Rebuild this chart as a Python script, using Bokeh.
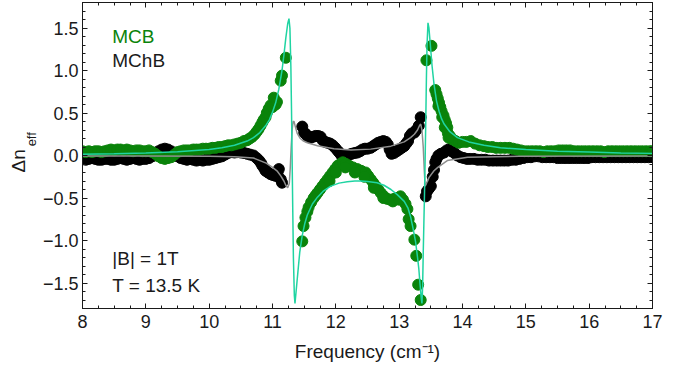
from bokeh.plotting import figure
from bokeh.models import Range1d, FixedTicker, LinearAxis, Label, CustomJSTickFormatter
from bokeh.embed import file_html
from bokeh.resources import INLINE

# ---------------- data ----------------
mcb_points = [
    (8.00, 0.05), (8.05, 0.04), (8.10, 0.05), (8.15, 0.04), (8.20, 0.05), (8.25, 0.05), (8.30, 0.04),
    (8.35, 0.05), (8.40, 0.06), (8.45, 0.07), (8.50, 0.06), (8.55, 0.07), (8.60, 0.07), (8.65, 0.06),
    (8.70, 0.07), (8.75, 0.06), (8.80, 0.05), (8.85, 0.06), (8.90, 0.06), (8.95, 0.05), (9.00, 0.05),
    (9.05, 0.06), (9.10, 0.04), (9.15, 0.02), (9.20, -0.01), (9.25, -0.03), (9.30, -0.04), (9.35, -0.03),
    (9.40, -0.02), (9.45, 0.01), (9.50, 0.04), (9.55, 0.05), (9.60, 0.06), (9.65, 0.06), (9.70, 0.06),
    (9.75, 0.07), (9.80, 0.07), (9.85, 0.07), (9.90, 0.08), (9.95, 0.08), (10.00, 0.08), (10.05, 0.09),
    (10.10, 0.09), (10.15, 0.10), (10.20, 0.10), (10.25, 0.11), (10.30, 0.12), (10.35, 0.12), (10.40, 0.13),
    (10.45, 0.14), (10.50, 0.15), (10.55, 0.17), (10.60, 0.18), (10.64, 0.20), (10.68, 0.22), (10.72, 0.25),
    (10.75, 0.28), (10.78, 0.31), (10.81, 0.35), (10.84, 0.39), (10.86, 0.42), (10.89, 0.45), (10.91, 0.50),
    (10.94, 0.55), (10.97, 0.59), (11.00, 0.57), (11.02, 0.68), (11.05, 0.60), (11.07, 0.63), (11.13, 0.88),
    (11.15, 0.94), (11.21, 1.15),
    (11.47, -1.01), (11.49, -0.83), (11.52, -0.73), (11.55, -0.66), (11.57, -0.61), (11.61, -0.55),
    (11.65, -0.50), (11.68, -0.47), (11.71, -0.44), (11.75, -0.40), (11.79, -0.36), (11.83, -0.32),
    (11.87, -0.28), (11.91, -0.24), (11.95, -0.20), (11.99, -0.16), (12.03, -0.12), (12.07, -0.10),
    (12.11, -0.08), (12.16, -0.10), (12.21, -0.12), (12.27, -0.14), (12.34, -0.16), (12.40, -0.18),
    (12.47, -0.20), (12.51, -0.24), (12.55, -0.28), (12.59, -0.32), (12.63, -0.36), (12.67, -0.40),
    (12.71, -0.44), (12.76, -0.48), (12.81, -0.51), (12.86, -0.52), (12.92, -0.51), (12.97, -0.50),
    (13.02, -0.48), (13.06, -0.52), (13.10, -0.57), (13.13, -0.63), (13.15, -0.75), (13.18, -0.83),
    (13.24, -0.99), (13.27, -1.18), (13.30, -1.52), (13.34, -1.70),
    (11.90, -0.30), (12.00, -0.20), (12.15, -0.14), (12.30, -0.20), (12.45, -0.25), (12.60, -0.38),
    (12.75, -0.50), (12.90, -0.54), (13.00, -0.52),
    (13.43, 1.12), (13.51, 1.29), (13.57, 0.77), (13.59, 0.72), (13.61, 0.67), (13.63, 0.62), (13.65, 0.57),
    (13.67, 0.52), (13.70, 0.47), (13.72, 0.42), (13.74, 0.38), (13.76, 0.33), (13.77, 0.26), (13.80, 0.23),
    (13.84, 0.19), (13.89, 0.17), (13.94, 0.15), (14.00, 0.16), (14.06, 0.16), (14.13, 0.17), (14.20, 0.14),
    (14.27, 0.12), (14.34, 0.11), (14.40, 0.10), (14.47, 0.10), (14.53, 0.09), (14.60, 0.09), (14.67, 0.09),
    (14.74, 0.09), (14.80, 0.08), (14.86, 0.07), (14.92, 0.06), (14.98, 0.05), (15.04, 0.05), (15.10, 0.05),
    (15.16, 0.05), (15.22, 0.05), (15.28, 0.04), (15.34, 0.05), (15.40, 0.05), (15.46, 0.05), (15.52, 0.06),
    (15.58, 0.06), (15.64, 0.06), (15.70, 0.06), (15.76, 0.05), (15.82, 0.05), (15.88, 0.05), (15.94, 0.05),
    (16.00, 0.05), (16.06, 0.05), (16.12, 0.05), (16.18, 0.05), (16.24, 0.04), (16.30, 0.05), (16.36, 0.05),
    (16.42, 0.05), (16.48, 0.05), (16.54, 0.05), (16.60, 0.05), (16.66, 0.05), (16.72, 0.05), (16.78, 0.05),
    (16.84, 0.05), (16.90, 0.05), (16.96, 0.05), (17.00, 0.05),
    (13.62, 0.58), (13.68, 0.45), (13.72, 0.33), (13.78, 0.21),
]

mchb_points = [
    (8.00, -0.04), (8.05, -0.05), (8.10, -0.04), (8.15, -0.03), (8.20, -0.04), (8.25, -0.05), (8.30, -0.05),
    (8.35, -0.04), (8.40, -0.04), (8.45, -0.05), (8.50, -0.05), (8.55, -0.04), (8.60, -0.03), (8.65, -0.04),
    (8.70, -0.05), (8.75, -0.04), (8.80, -0.03), (8.85, -0.04), (8.90, -0.05), (8.95, -0.04), (9.00, -0.04),
    (9.05, -0.03), (9.10, -0.01), (9.15, 0.02), (9.20, 0.05), (9.25, 0.07), (9.30, 0.08), (9.35, 0.07),
    (9.40, 0.05), (9.45, 0.02), (9.50, -0.01), (9.55, -0.03), (9.60, -0.04), (9.65, -0.05), (9.70, -0.04),
    (9.75, -0.05), (9.80, -0.06), (9.85, -0.05), (9.90, -0.06), (9.95, -0.05), (10.00, -0.05), (10.05, -0.04),
    (10.10, -0.03), (10.15, -0.02), (10.20, -0.01), (10.25, 0.01), (10.30, 0.03), (10.35, 0.04), (10.40, 0.035),
    (10.45, 0.04), (10.50, 0.035), (10.55, 0.03), (10.60, 0.02), (10.65, 0.01), (10.70, 0.0), (10.75, -0.03),
    (10.79, -0.06), (10.82, -0.09), (10.84, -0.12), (10.87, -0.15), (10.89, -0.18), (10.93, -0.20),
    (10.97, -0.22), (11.01, -0.23), (11.05, -0.24), (11.08, -0.20), (11.10, -0.16), (11.13, -0.28),
    (11.15, -0.32),
    (11.47, 0.34), (11.50, 0.27), (11.53, 0.25), (11.56, 0.22), (11.60, 0.21), (11.64, 0.22), (11.68, 0.23),
    (11.72, 0.23), (11.76, 0.22), (11.79, 0.18), (11.83, 0.16), (11.87, 0.15), (11.91, 0.14), (11.95, 0.12),
    (11.99, 0.09), (12.03, 0.055), (12.06, 0.03), (12.09, 0.0), (12.13, -0.01), (12.17, 0.0), (12.21, 0.01),
    (12.25, 0.02), (12.30, 0.03), (12.34, 0.035), (12.38, 0.05), (12.42, 0.07), (12.46, 0.08), (12.50, 0.08),
    (12.55, 0.09), (12.59, 0.11), (12.63, 0.13), (12.67, 0.15), (12.71, 0.16), (12.75, 0.17), (12.79, 0.16),
    (12.82, 0.13), (12.85, 0.07), (12.88, 0.02), (12.92, 0.03), (12.96, 0.05), (13.00, 0.07), (13.04, 0.09),
    (13.08, 0.11), (13.11, 0.14), (13.14, 0.17), (13.17, 0.23), (13.20, 0.26), (13.24, 0.27), (13.27, 0.30),
    (13.31, 0.35), (13.34, 0.45),
    (13.42, -0.48), (13.44, -0.42), (13.47, -0.39), (13.50, -0.36), (13.53, -0.25), (13.55, -0.17),
    (13.57, -0.08), (13.59, -0.04), (13.62, 0.0), (13.66, 0.02), (13.71, 0.035), (13.75, 0.06), (13.79, 0.075),
    (13.83, 0.05), (13.87, 0.03), (13.92, 0.0), (13.97, -0.02), (14.02, -0.03), (14.07, -0.04), (14.12, -0.04),
    (14.18, -0.04), (14.24, -0.05), (14.30, -0.05), (14.36, -0.05), (14.42, -0.06), (14.48, -0.06),
    (14.54, -0.06), (14.60, -0.06), (14.66, -0.06), (14.72, -0.06), (14.78, -0.05), (14.84, -0.05),
    (14.90, -0.04), (14.96, -0.03), (15.02, -0.02), (15.08, -0.02), (15.14, -0.01), (15.20, -0.01),
    (15.26, -0.02), (15.32, -0.02), (15.38, -0.02), (15.44, -0.02), (15.50, -0.03), (15.56, -0.03),
    (15.62, -0.03), (15.68, -0.03), (15.74, -0.03), (15.80, -0.03), (15.86, -0.03), (15.92, -0.03),
    (15.98, -0.03), (16.04, -0.02), (16.10, -0.02), (16.16, -0.02), (16.22, -0.02), (16.28, -0.02),
    (16.34, -0.02), (16.40, -0.02), (16.46, -0.02), (16.52, -0.02), (16.58, -0.02), (16.64, -0.02),
    (16.70, -0.02), (16.76, -0.02), (16.82, -0.02), (16.88, -0.02), (16.94, -0.02), (17.00, -0.02),
]

mcb_fit = [
    (8.0, 0.015), (8.5, 0.02), (9.0, 0.03), (9.5, 0.045), (10.0, 0.07), (10.2, 0.09), (10.4, 0.12),
    (10.6, 0.17), (10.7, 0.21), (10.8, 0.27), (10.9, 0.36), (10.95, 0.42), (11.0, 0.51), (11.05, 0.62),
    (11.1, 0.78), (11.15, 1.0), (11.18, 1.18), (11.21, 1.38), (11.24, 1.55), (11.26, 1.61), (11.275, 1.50),
    (11.29, 1.05), (11.30, 0.55), (11.31, -0.05), (11.32, -0.65), (11.33, -1.2), (11.345, -1.65),
    (11.355, -1.74), (11.37, -1.62), (11.40, -1.38), (11.43, -1.14), (11.47, -0.94), (11.51, -0.80),
    (11.55, -0.70), (11.63, -0.57), (11.71, -0.49), (11.80, -0.42), (11.92, -0.36), (12.05, -0.325),
    (12.18, -0.31), (12.30, -0.30), (12.39, -0.30), (12.50, -0.305), (12.65, -0.32), (12.76, -0.35),
    (12.87, -0.40), (12.97, -0.46), (13.08, -0.54), (13.14, -0.62), (13.18, -0.72), (13.22, -0.86),
    (13.26, -1.02), (13.29, -1.20), (13.31, -1.33), (13.33, -1.52), (13.35, -1.69), (13.36, -1.74),
    (13.37, -1.55), (13.38, -1.15), (13.39, -0.80), (13.40, -0.45), (13.41, -0.05), (13.42, 0.40),
    (13.43, 0.90), (13.44, 1.30), (13.455, 1.56), (13.47, 1.50), (13.49, 1.32), (13.52, 1.05), (13.55, 0.84),
    (13.59, 0.64), (13.63, 0.52), (13.67, 0.43), (13.71, 0.37), (13.80, 0.28), (13.92, 0.21), (14.1, 0.16),
    (14.34, 0.12), (14.6, 0.09), (15.0, 0.07), (15.5, 0.05), (16.0, 0.04), (16.5, 0.03), (17.0, 0.025),
]

mchb_fit = [
    (8.0, -0.005), (9.0, -0.005), (10.0, -0.01), (10.4, -0.015), (10.7, -0.03), (10.9, -0.09), (11.0, -0.14),
    (11.07, -0.18), (11.13, -0.24), (11.18, -0.30), (11.21, -0.35), (11.24, -0.38), (11.265, -0.33),
    (11.28, -0.15), (11.295, 0.10), (11.31, 0.30), (11.325, 0.40), (11.34, 0.40), (11.36, 0.34), (11.39, 0.26),
    (11.44, 0.20), (11.49, 0.17), (11.55, 0.15), (11.71, 0.115), (11.97, 0.08), (12.24, 0.065), (12.55, 0.075),
    (12.87, 0.11), (13.08, 0.16), (13.18, 0.21), (13.24, 0.25), (13.29, 0.30), (13.32, 0.35), (13.34, 0.37),
    (13.36, 0.30), (13.38, 0.10), (13.395, -0.15), (13.41, -0.36), (13.43, -0.33), (13.47, -0.26),
    (13.55, -0.18), (13.61, -0.14), (13.76, -0.06), (14.08, -0.02), (14.9, -0.01), (17.0, -0.005),
]

x_ticks = [8, 9, 10, 11, 12, 13, 14, 15, 16, 17]
x_minor_ticks = [8 + 0.25 * i for i in range(37)]
y_ticks = [-1.5, -1.0, -0.5, 0.0, 0.5, 1.0, 1.5]
y_minor_ticks = [round(-1.8 + 0.1 * i, 2) for i in range(37)]

mcb_x = [p[0] for p in mcb_points]
mcb_y = [p[1] for p in mcb_points]
mchb_x = [p[0] for p in mchb_points]
mchb_y = [p[1] for p in mchb_points]
mcb_fit_x = [p[0] for p in mcb_fit]
mcb_fit_y = [p[1] for p in mcb_fit]
mchb_fit_x = [p[0] for p in mchb_fit]
mchb_fit_y = [p[1] for p in mchb_fit]

# ---------------- styling ----------------
FONT = "Liberation Sans"
GREEN = "#0a830a"
TEAL = "#1fd4a2"
GRAY = "#8f8f8f"
INK = "#1a1a1a"
NB = "\u00a0"

p = figure(width=694, height=373, x_range=Range1d(8, 17), y_range=Range1d(-1.8, 1.8),
           output_backend="svg", toolbar_location=None,
           min_border_left=82, min_border_right=42, min_border_top=2, min_border_bottom=65)
p.xgrid.visible = False
p.ygrid.visible = False
p.outline_line_color = INK
p.outline_line_width = 1
p.background_fill_color = "white"
p.border_fill_color = "white"

xt = FixedTicker(ticks=x_ticks, minor_ticks=x_minor_ticks)
yt = FixedTicker(ticks=y_ticks, minor_ticks=y_minor_ticks)
yfmt = CustomJSTickFormatter(code="return tick.toFixed(1).replace('-', '\u2212');")
blank = CustomJSTickFormatter(code="return '';")


def style_axis(ax, labels=True):
    ax.major_tick_in = 5
    ax.major_tick_out = 0
    ax.minor_tick_in = 3
    ax.minor_tick_out = 0
    ax.axis_line_color = INK
    ax.major_tick_line_color = INK
    ax.minor_tick_line_color = INK
    ax.major_label_text_font = FONT
    ax.major_label_text_color = INK
    if labels:
        ax.major_label_text_font_size = "18px"
    else:
        ax.major_label_text_font_size = "0px"
        ax.major_label_standoff = 0


xa = p.xaxis[0]
xa.ticker = xt
style_axis(xa)
xa.major_label_standoff = 6
xa.axis_label = "Frequency (cm\u207b\u00b9)"
xa.axis_label_text_font = FONT
xa.axis_label_text_font_style = "normal"
xa.axis_label_text_font_size = "19px"
xa.axis_label_text_color = INK
xa.axis_label_standoff = 10

ya = p.yaxis[0]
ya.ticker = yt
ya.formatter = yfmt
style_axis(ya)
ya.major_label_standoff = 4
# subscript part of the y label ("eff"), next to the tick labels
ya.axis_label = NB * 9 + "eff"
ya.axis_label_text_font = FONT
ya.axis_label_text_font_style = "normal"
ya.axis_label_text_font_size = "13px"
ya.axis_label_text_color = INK
ya.axis_label_standoff = 1

# main part of the y label ("Δn") on an outer, invisible axis
la = LinearAxis(ticker=yt, formatter=blank)
style_axis(la, labels=False)
la.axis_line_color = None
la.major_tick_line_color = None
la.minor_tick_line_color = None
la.axis_label = "\u0394n" + NB * 2
la.axis_label_text_font = FONT
la.axis_label_text_font_style = "normal"
la.axis_label_text_font_size = "19px"
la.axis_label_text_color = INK
la.axis_label_standoff = -8
p.add_layout(la, "left")

ra = LinearAxis(ticker=yt, formatter=blank)
style_axis(ra, labels=False)
p.add_layout(ra, "right")
ta = LinearAxis(ticker=xt, formatter=blank)
style_axis(ta, labels=False)
p.add_layout(ta, "above")

# ---------------- glyphs ----------------
p.scatter(mchb_x, mchb_y, size=11, color="black", line_color="black")
p.scatter(mcb_x, mcb_y, size=11, color=GREEN, line_color=GREEN)
p.line(mchb_fit_x, mchb_fit_y, line_color=GRAY, line_width=1.5)
p.line(mcb_fit_x, mcb_fit_y, line_color=TEAL, line_width=1.5)

# ---------------- texts ----------------
def add_text(x, y, text, color=INK, size="19px"):
    p.add_layout(Label(x=x, y=y, text=text, text_color=color, text_font=FONT,
                       text_font_size=size, text_baseline="alphabetic", text_align="left"))


add_text(8.47, 1.40, "MCB", color=GREEN)
add_text(8.47, 1.115, "MChB")
add_text(8.47, -1.215, "|B| = 1T")
add_text(8.47, -1.525, "T = 13.5 K")

open("out.html", "w").write(file_html(p, INLINE))
